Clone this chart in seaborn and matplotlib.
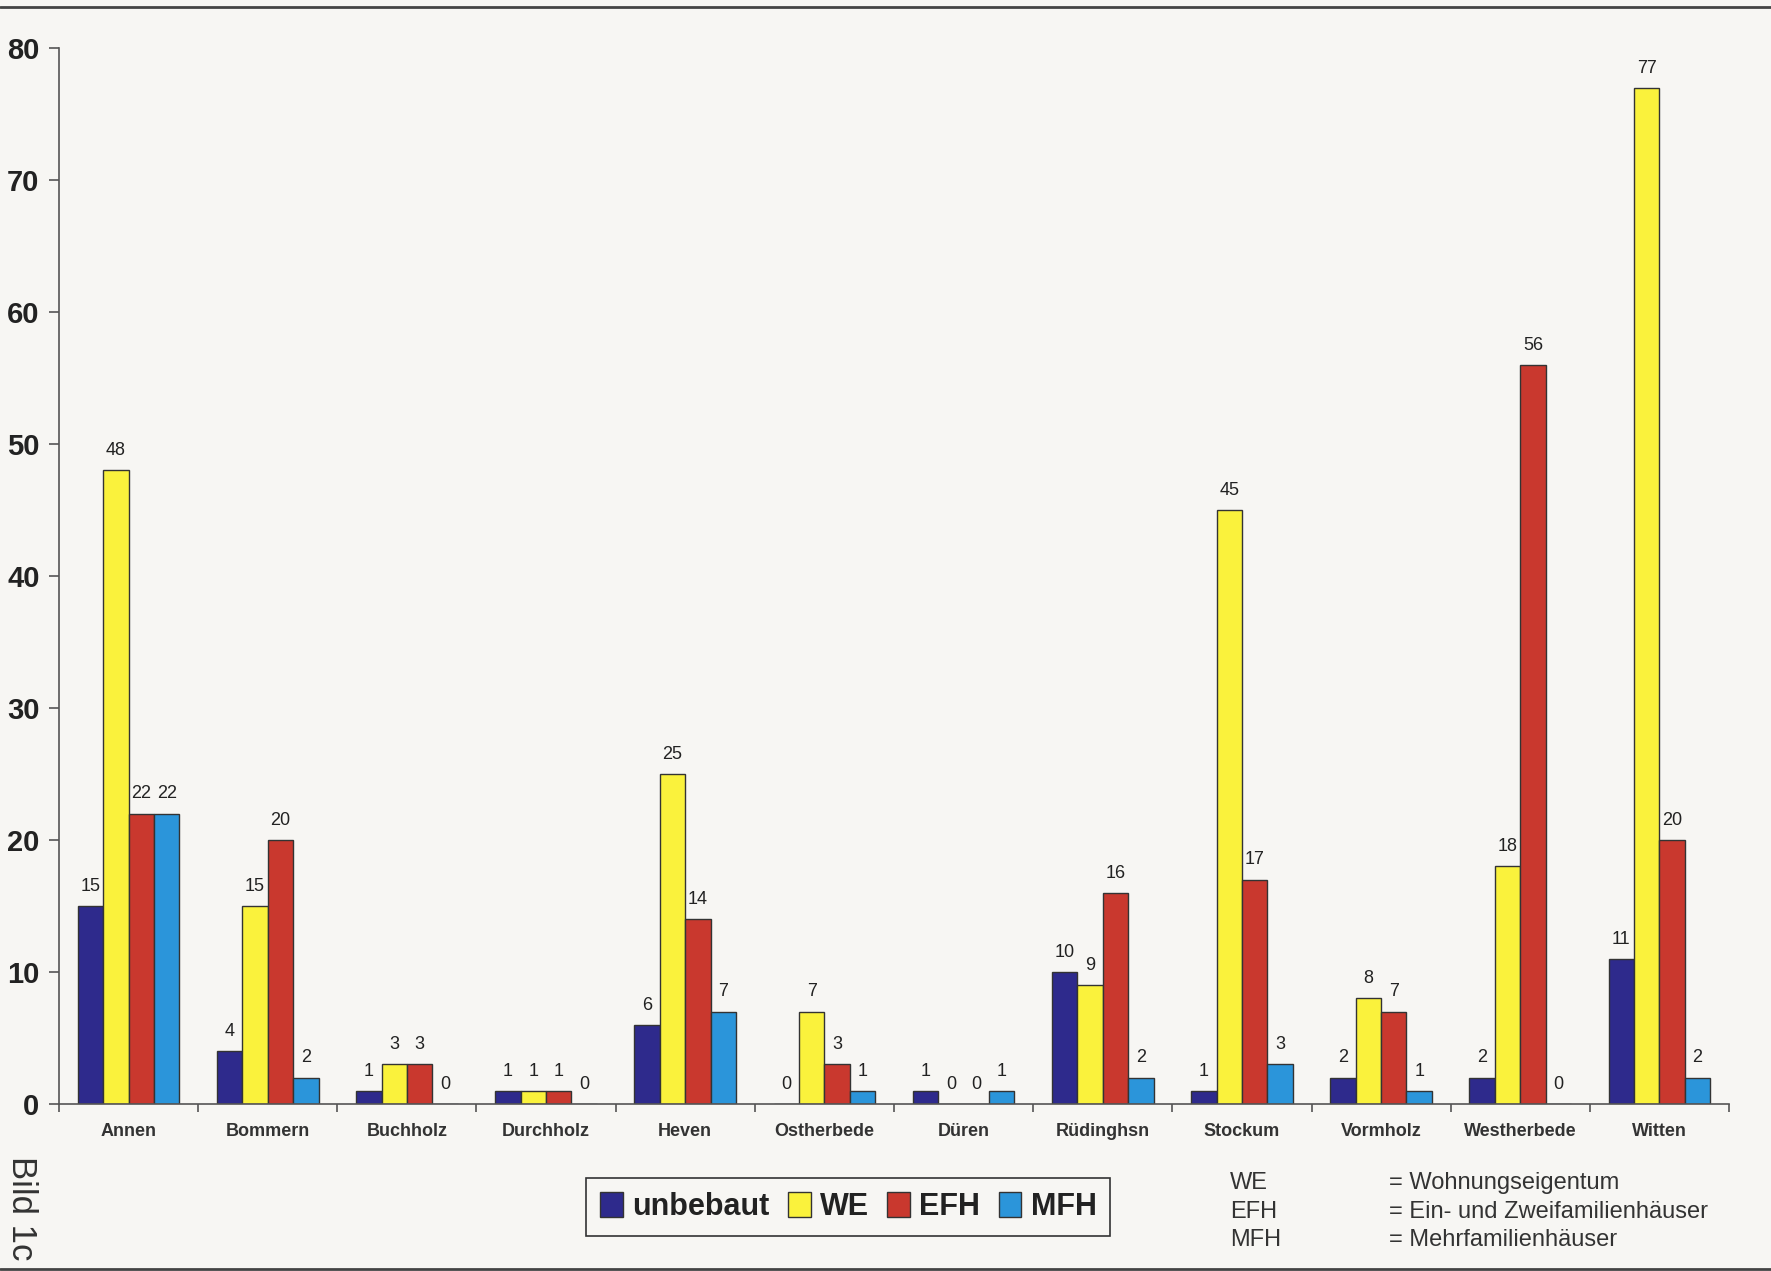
import matplotlib
matplotlib.use("Agg")
import matplotlib.pyplot as plt
from matplotlib.patches import Patch
from matplotlib.lines import Line2D
import seaborn as sns
import pandas as pd
import numpy as np

# ---- data ----
categories = ["Annen", "Bommern", "Buchholz", "Durchholz", "Heven", "Ostherbede",
              "Düren", "Rüdinghsn", "Stockum", "Vormholz", "Westherbede", "Witten"]
series_names = ["unbebaut", "WE", "EFH", "MFH"]
unbebaut = [15, 4, 1, 1, 6, 0, 1, 10, 1, 2, 2, 11]
we = [48, 15, 3, 1, 25, 7, 0, 9, 45, 8, 18, 77]
efh = [22, 20, 3, 1, 14, 3, 0, 16, 17, 7, 56, 20]
mfh = [22, 2, 0, 0, 7, 1, 1, 2, 3, 1, 0, 2]
y_ticks = [0, 10, 20, 30, 40, 50, 60, 70, 80]
abbrevs = ["WE", "EFH", "MFH"]
definitions = ["= Wohnungseigentum", "= Ein- und Zweifamilienhäuser", "= Mehrfamilienhäuser"]
footer = "Bild 1c"

colors = ["#2E2A8C", "#FAF23C", "#C9382E", "#2B95DA"]
bg = "#F7F6F3"
edge = "#333333"

sns.set_theme(style="white")
plt.rcParams["font.family"] = ["Liberation Sans", "DejaVu Sans"]

df = pd.DataFrame({"Ortsteil": categories, "unbebaut": unbebaut, "WE": we,
                   "EFH": efh, "MFH": mfh})
long = df.melt(id_vars="Ortsteil", value_vars=series_names, var_name="Art", value_name="Anzahl")

fig = plt.figure(figsize=(17.71, 12.71), dpi=100, facecolor=bg)
ax = fig.add_axes([0.0333, 0.1314, 0.943, 0.8308])
ax.set_facecolor(bg)

sns.barplot(data=long, x="Ortsteil", y="Anzahl", hue="Art", order=categories,
            hue_order=series_names, palette=colors, width=0.73, gap=0,
            edgecolor=edge, linewidth=1.0, saturation=1, ax=ax, legend=False)

for cont in ax.containers:
    ax.bar_label(cont, fmt="%d", padding=8, fontsize=13, color="#222222")

ax.set_ylim(0, 80)
ax.set_xlim(-0.5, 11.5)
ax.set_yticks(y_ticks)
ax.set_yticklabels([str(v) for v in y_ticks], fontsize=21, fontweight="bold", color="#222222")
ax.tick_params(axis="y", direction="out", length=7, width=1.2, color="#555555", pad=7, left=True)
ax.set_xticks(range(len(categories)))
ax.set_xticklabels(categories, fontsize=13, fontweight="bold", color="#333333")
ax.tick_params(axis="x", which="major", length=0, pad=14, bottom=True)
ax.set_xticks(np.arange(-0.5, len(categories), 1.0), minor=True)
ax.tick_params(axis="x", which="minor", direction="out", length=6, width=1.2, color="#555555", bottom=True)
ax.set_xlabel("")
ax.set_ylabel("")
for s in ["top", "right"]:
    ax.spines[s].set_visible(False)
for s in ["left", "bottom"]:
    ax.spines[s].set_color("#555555")
    ax.spines[s].set_linewidth(1.2)

# legend
handles = [Patch(facecolor=c, edgecolor=edge, linewidth=1) for c in colors]
leg = fig.legend(handles, series_names, loc="center", bbox_to_anchor=(0.479, 0.0505),
                 ncol=4, frameon=True, fancybox=False, framealpha=1,
                 prop={"family": "Liberation Sans", "weight": "bold", "size": 22},
                 handlelength=0.75, handleheight=0.9, handletextpad=0.3,
                 columnspacing=0.6, borderpad=0.45, edgecolor="#333333")
leg.get_frame().set_facecolor(bg)
leg.get_frame().set_linewidth(1.2)
for t in leg.get_texts():
    t.set_color("#222222")

# abbreviation definitions
ys = [0.0692, 0.0464, 0.0244]
for a, d, y in zip(abbrevs, definitions, ys):
    fig.text(0.6945, y, a, fontsize=17, color="#333333", va="center", ha="left")
    fig.text(0.7843, y, d, fontsize=17, color="#333333", va="center", ha="left")

fig.text(0.0124, 0.0496, footer, rotation=-90, fontsize=25, color="#333333",
         va="center", ha="center")

# border lines
fig.add_artist(Line2D([0, 1], [0.9945, 0.9945], transform=fig.transFigure, color="#444444", linewidth=2))
fig.add_artist(Line2D([0, 1], [0.0012, 0.0012], transform=fig.transFigure, color="#444444", linewidth=2))

fig.savefig("out.png", dpi=100, facecolor=bg)
